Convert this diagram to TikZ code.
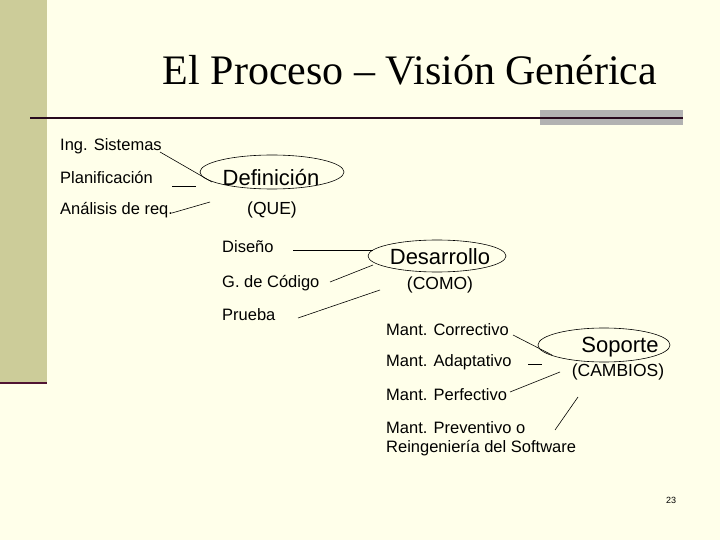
\documentclass[tikz,border=0pt]{standalone}
\usepackage{fontspec}
\setmainfont{Liberation Sans}
\newfontfamily\titlefont{Liberation Serif}
\begin{document}
\begin{tikzpicture}[x=1pt,y=-1pt,
  lbl/.style={anchor=west,inner sep=0pt,font=\fontsize{16.5}{19}\selectfont},
  big/.style={inner sep=0pt,font=\fontsize{22}{24}\selectfont},
  mid/.style={inner sep=0pt,font=\fontsize{17.5}{20}\selectfont},
  conn/.style={draw=black,line width=0.6pt},
  oval/.style={draw=black,line width=0.6pt}]
\fill[fill={rgb,255:red,255;green,255;blue,234}] (0,0) rectangle (720,540);
\useasboundingbox (0,0) rectangle (720,540);
\fill[fill={rgb,255:red,204;green,204;blue,153}] (0,0) rectangle (47,383);
\draw[line width=2pt,color={rgb,255:red,80;green,20;blue,50}] (0,383) -- (47,383);
\fill[gray!60] (540,110) rectangle (683,125);
\draw[line width=1.5pt,color={rgb,255:red,40;green,10;blue,30}] (30,118) -- (683,118);
\node[font=\titlefont\fontsize{42}{46}\selectfont] (title) at (410,70) {El Proceso – Visión Genérica};
% group 1
\node[lbl] (ing) at (60,146) {Ing. Sistemas};
\node[lbl] (pla) at (60,178) {Planificación};
\node[lbl] (ana) at (60,210) {Análisis de req.};
\draw[oval] (272,172) ellipse (72 and 17);
\node[big] (def) at (271,178) {Definición};
\node[mid] (que) at (272,210) {(QUE)};
\coordinate (a1) at (160,152); \coordinate (a2) at (212,182);
\coordinate (b1) at (172,186); \coordinate (b2) at (196,186);
\coordinate (c1) at (172,213); \coordinate (c2) at (210,202);
\draw[conn] (a1)--(a2); \draw[conn] (b1)--(b2); \draw[conn] (c1)--(c2);
% group 2
\node[lbl] (dis) at (222,247) {Diseño};
\node[lbl] (cod) at (222,283) {G. de Código};
\node[lbl] (pru) at (222,315) {Prueba};
\draw[oval] (437,256) ellipse (69 and 16);
\node[big] (des) at (440,257) {Desarrollo};
\node[mid] (com) at (440,285) {(COMO)};
\coordinate (d1) at (293,250); \coordinate (d2) at (373,250);
\coordinate (e1) at (330,282); \coordinate (e2) at (373,265);
\coordinate (f1) at (298,318); \coordinate (f2) at (380,290);
\draw[conn] (d1)--(d2); \draw[conn] (e1)--(e2); \draw[conn] (f1)--(f2);
% group 3
\node[lbl] (cor) at (386,330) {Mant. Correctivo};
\node[lbl] (ada) at (386,362) {Mant. Adaptativo};
\node[lbl] (per) at (386,395) {Mant. Perfectivo};
\node[lbl,align=left] (pre) at (386,439) {Mant. Preventivo o\\Reingeniería del Software};
\draw[oval] (604,345) ellipse (66 and 17);
\node[big] (sop) at (620,347) {Soporte};
\node[mid] (cam) at (618,372) {(CAMBIOS)};
\coordinate (g1) at (513,335); \coordinate (g2) at (552,355);
\coordinate (h1) at (528,364); \coordinate (h2) at (542,364);
\coordinate (i1) at (510,392); \coordinate (i2) at (560,372);
\coordinate (j1) at (555,430); \coordinate (j2) at (578,397);
\draw[conn] (g1)--(g2); \draw[conn] (h1)--(h2); \draw[conn] (i1)--(i2); \draw[conn] (j1)--(j2);
\node[font=\fontsize{9}{10}\selectfont] (pg) at (671,500) {23};
\end{tikzpicture}
\end{document}
